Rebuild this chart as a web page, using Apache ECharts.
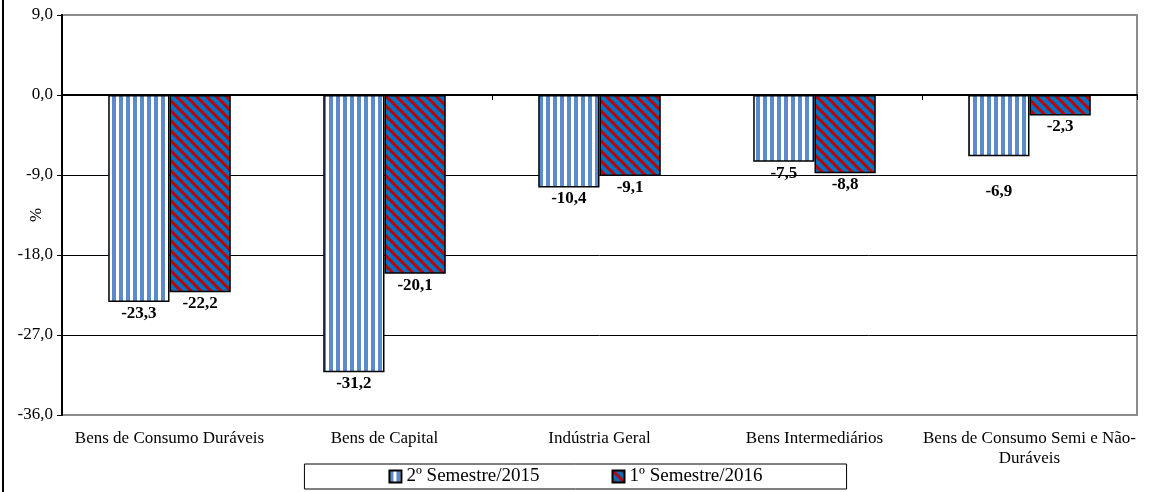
<!DOCTYPE html>
<html>
<head>
<meta charset="utf-8">
<script src="https://cdn.jsdelivr.net/npm/echarts@6/dist/echarts.min.js"></script>
<style>
  html, body { margin: 0; padding: 0; background: #fff; }
  #chart { width: 1151px; height: 492px; }
  #frame { position: absolute; left: 2px; top: 0; width: 2px; height: 492px; background: #000; }
</style>
</head>
<body>
<div id="frame"></div>
<div id="chart"></div>
<script>
var categories = [
  "Bens de Consumo Duráveis",
  "Bens de Capital",
  "Indústria Geral",
  "Bens Intermediários",
  "Bens de Consumo Semi e Não-\nDuráveis"
];
var seriesNames = ["2º Semestre/2015", "1º Semestre/2016"];
var sem2015 = [-23.3, -31.2, -10.4, -7.5, -6.9];
var sem2016 = [-22.2, -20.1, -9.1, -8.8, -2.3];
var yTicks = { min: -36, max: 9, interval: 9 };

var FONT = "Liberation Serif";

// vertical stripes: white + blue
function stripePattern() {
  var c = document.createElement("canvas");
  c.width = 7; c.height = 8;
  var ctx = c.getContext("2d");
  ctx.fillStyle = "#fff";
  ctx.fillRect(0, 0, 7, 8);
  ctx.fillStyle = "#5B8BCB";
  ctx.fillRect(0, 0, 4, 8);
  return c;
}
// diagonal stripes: blue + red
function diagPattern() {
  var c = document.createElement("canvas");
  c.width = 10; c.height = 10;
  var ctx = c.getContext("2d");
  ctx.fillStyle = "#0070C0";
  ctx.fillRect(0, 0, 10, 10);
  ctx.strokeStyle = "#C00000";
  ctx.lineWidth = 3;
  ctx.beginPath();
  ctx.moveTo(-5, -5); ctx.lineTo(15, 15);
  ctx.moveTo(-15, -5); ctx.lineTo(5, 15);
  ctx.moveTo(5, -5); ctx.lineTo(25, 15);
  ctx.stroke();
  return c;
}

var fmt = function (v) { return v.toFixed(1).replace(".", ","); };

var myChart = echarts.init(document.getElementById("chart"));
var labelStyle = {
  show: true,
  position: "bottom",
  distance: 3,
  fontFamily: FONT,
  fontWeight: "bold",
  fontSize: 17,
  color: "#000",
  formatter: function (p) { return fmt(p.value); }
};

var option = {
  animation: false,
  grid: {
    left: 62, right: 14, top: 15, bottom: 77,
    outerBoundsMode: "none",
    containLabel: false,
    show: true, borderColor: "#8c8c8c", borderWidth: 2
  },
  legend: {
    bottom: 3,
    left: "center",
    data: seriesNames,
    icon: "rect",
    itemWidth: 12,
    itemHeight: 12,
    itemGap: 72,
    padding: [3, 84, 3, 84],
    borderColor: "#000",
    borderWidth: 1,
    textStyle: { fontFamily: FONT, fontSize: 19, color: "#000" }
  },
  xAxis: [
    {
      type: "category",
      data: categories,
      axisLine: { show: false, onZero: false },
      axisTick: { show: false },
      axisLabel: { fontFamily: FONT, fontSize: 17, color: "#000", margin: 14, interval: 0, lineHeight: 20 }
    },
    {
      type: "category",
      data: categories,
      position: "bottom",
      axisLine: { show: true, onZero: true, lineStyle: { color: "#000", width: 2 } },
      axisTick: { show: true, length: 5, lineStyle: { color: "#000" } },
      axisLabel: { show: false }
    }
  ],
  yAxis: {
    type: "value",
    min: yTicks.min,
    max: yTicks.max,
    interval: yTicks.interval,
    name: "%",
    nameLocation: "middle",
    nameGap: 17,
    nameMoveOverlap: false,
    nameRotate: 90,
    nameTextStyle: { fontFamily: FONT, fontSize: 17, color: "#000" },
    axisLine: { show: true, lineStyle: { color: "#000", width: 2 } },
    axisTick: { show: true, length: 5, lineStyle: { color: "#000" } },
    axisLabel: { fontFamily: FONT, fontSize: 17, color: "#000", margin: 9, formatter: fmt },
    splitLine: { show: true, lineStyle: { color: ["#8c8c8c", "#000", "#000", "#000", "#000", "#8c8c8c"], width: 1 } }
  },
  series: [
    {
      name: seriesNames[0],
      type: "bar",
      barGap: "0%",
      barCategoryGap: "43%",
      itemStyle: { color: { image: stripePattern(), repetition: "repeat" }, borderColor: "#000", borderWidth: 1.5 },
      label: labelStyle,
      data: sem2015.map(function (v, i) {
        return i === 4 ? { value: v, label: { offset: [0, 24] } } : v;
      })
    },
    {
      name: seriesNames[1],
      type: "bar",
      itemStyle: { color: { image: diagPattern(), repetition: "repeat" }, borderColor: "#000", borderWidth: 1.5 },
      label: labelStyle,
      data: sem2016
    }
  ]
};
myChart.setOption(option);
</script>
</body>
</html>
